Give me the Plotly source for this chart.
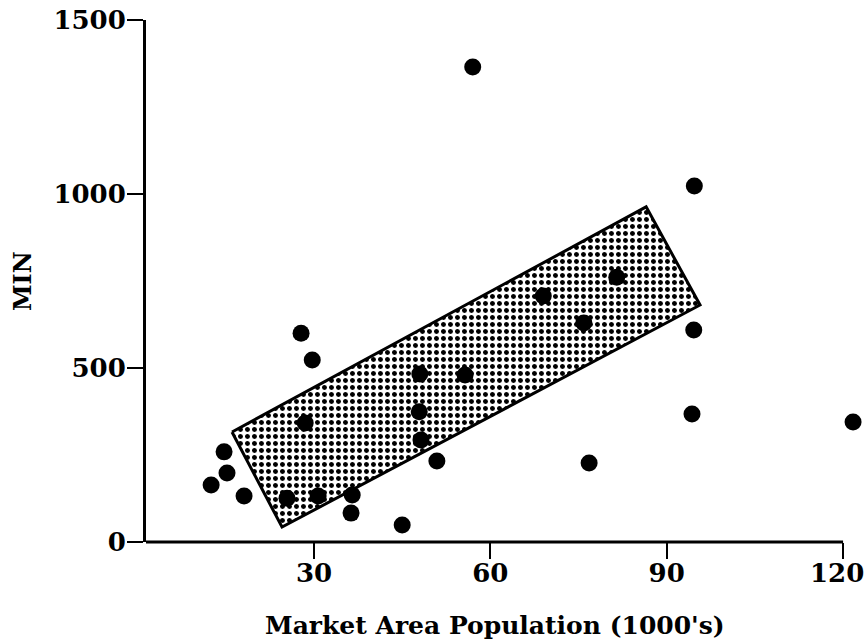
import plotly.graph_objects as go

# Scatter data (Market Area Population in 1000's vs MIN)
pop_x = [12.5, 14.7, 15.2, 18.1, 25.4, 27.8, 28.5, 29.7, 30.7, 36.3, 36.5, 45.0,
         48.0, 47.9, 48.2, 50.9, 55.7, 57.0, 69.0, 75.9, 76.8, 81.5, 94.6, 94.3,
         94.7, 121.7]
min_y = [164, 259, 198, 132, 126, 600, 342, 523, 132, 83, 135, 49,
         483, 374, 293, 233, 480, 1365, 707, 629, 227, 761, 609, 368,
         1023, 345]

# Shaded band (parallelogram corners)
band_x = [16.05, 86.5, 95.67, 24.56, 16.05]
band_y = [316, 963, 681, 43, 316]

x_ticks = [30, 60, 90, 120]
x_tick_labels = ["30", "60", "90", "120"]
y_ticks = [0, 500, 1000, 1500]

x_min, x_axis_end, x_view_max = 1.42, 120, 122.2
px_per_unit = 5.878

W, H = 866, 644
plot_left = 146
plot_top = 20
plot_height = 522
plot_width = (x_view_max - x_min) * px_per_unit

font_family = "DejaVu Serif"
tick_font = dict(family=font_family, size=26, color="black", weight="bold")
title_font = dict(family=font_family, size=25, color="black", weight="bold")

fig = go.Figure()
fig.add_trace(go.Scatter(
    x=band_x, y=band_y, mode="lines", fill="toself",
    line=dict(color="black", width=3),
    fillcolor="white",
    fillpattern=dict(shape=".", size=7, solidity=0.4,
                     fgcolor="black", bgcolor="white", fillmode="replace"),
    hoverinfo="skip", showlegend=False,
))
fig.add_trace(go.Scatter(
    x=pop_x, y=min_y, mode="markers",
    marker=dict(size=17, color="black", line=dict(width=0)),
    cliponaxis=False, showlegend=False,
))

# x-axis line stops at 120 (the last point lies beyond it)
fig.add_shape(type="line", xref="x", yref="paper",
              x0=x_min, x1=x_axis_end, y0=0, y1=0,
              line=dict(color="black", width=3))

# last x tick label drawn as annotation, nudged left so it stays on the page
fig.add_annotation(text=x_tick_labels[-1], xref="x", yref="paper",
                   x=x_ticks[-1], y=0, xanchor="center", yanchor="middle",
                   xshift=-6, yshift=-31, showarrow=False, font=tick_font)

# axis titles as annotations, centred on the drawn axes
fig.add_annotation(text="Market Area Population (1000's)", xref="x", yref="paper",
                   x=(x_min + x_axis_end) / 2, y=0, yanchor="middle", yshift=-83,
                   showarrow=False, font=title_font)
fig.add_annotation(text="MIN", xref="paper", yref="paper", x=0, y=0.5,
                   xanchor="center", yanchor="middle", xshift=-124, textangle=-90,
                   showarrow=False, font=dict(family=font_family, size=24, color="black", weight="bold"))

fig.update_layout(
    width=W, height=H,
    margin=dict(l=plot_left, r=W - plot_left - plot_width, t=plot_top,
                b=H - plot_top - plot_height, autoexpand=False),
    paper_bgcolor="white", plot_bgcolor="white",
    showlegend=False,
    hovermode=False,
    xaxis=dict(
        range=[x_min, x_view_max], tickvals=x_ticks,
        ticktext=x_tick_labels[:-1] + [""],
        showgrid=False, zeroline=False, showline=False, automargin=False,
        ticks="outside", ticklen=16, tickwidth=2, tickcolor="black",
        ticklabelstandoff=-8, ticklabeloverflow="allow",
        tickfont=tick_font,
    ),
    yaxis=dict(
        range=[0, 1500], tickvals=y_ticks, ticktext=[str(v) for v in y_ticks],
        showgrid=False, zeroline=False, showline=True, linecolor="black", linewidth=3,
        automargin=False,
        ticks="outside", ticklen=16, tickwidth=2, tickcolor="black",
        ticklabelstandoff=-4, ticklabeloverflow="allow",
        tickfont=tick_font,
    ),
)

# place the figure at the page's top-left corner (no default body margin)
fig.write_html("out.html",
               config={"displayModeBar": False, "staticPlot": True},
               post_script="document.body.style.margin='0';document.body.style.overflow='hidden';")
